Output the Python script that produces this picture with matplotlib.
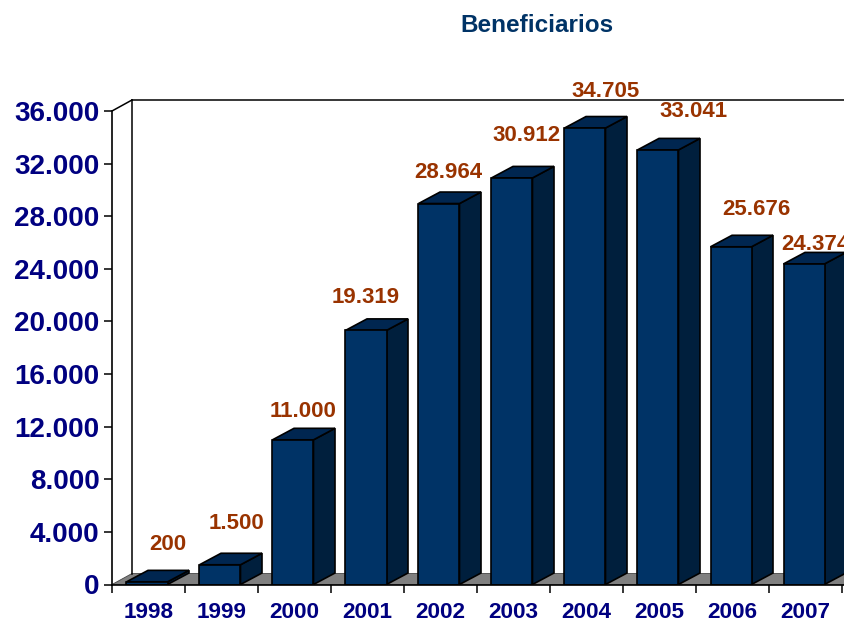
import matplotlib
matplotlib.use("Agg")
import matplotlib.pyplot as plt
from matplotlib.patches import Polygon

plt.rcParams['font.family'] = ['Liberation Sans', 'DejaVu Sans']
plt.rcParams['font.weight'] = 'bold'

years = ['1998', '1999', '2000', '2001', '2002', '2003', '2004', '2005', '2006', '2007']
values = [200, 1500, 11000, 19319, 28964, 30912, 34705, 33041, 25676, 24374]
labels = ['200', '1.500', '11.000', '19.319', '28.964', '30.912', '34.705', '33.041', '25.676', '24.374']
yticks = [0, 4000, 8000, 12000, 16000, 20000, 24000, 28000, 32000, 36000]
ytick_labels = ['0', '4.000', '8.000', '12.000', '16.000', '20.000', '24.000', '28.000', '32.000', '36.000']

# label offsets from the bar top, in pixels (they don't sit straight above the bars)
label_dx = [21, 17, 10.5, -0.5, 9.5, 14.5, 20.5, 35.5, 25.5, 11]
label_dy = [37.4, 41.2, 28, 33, 31, 42.5, 37, 38, 37.2, 19]

W, H = 845, 623
cat_px = 73
val_px = 473.5 / 36000

front = '#003366'
side = '#001F3D'
top = '#002650'
floor = '#808080'

fig = plt.figure(figsize=(W / 100, H / 100), dpi=100)
ax = fig.add_axes([112 / W, (H - 584.5) / H, (W - 112) / W, (584.5 - 95) / H])
ax.set_xlim(0, (W - 112) / cat_px)
ax.set_ylim(0, 489.5 / val_px)

# fake 3d depth, data units
wall_dx = 20 / cat_px
wall_dy = 11 / val_px
bar_dx = 21.5 / cat_px
bar_dy = 11.5 / val_px
bar_w = 41 / cat_px
shift = -1.5 / cat_px

xmax = ax.get_xlim()[1]
ax.add_patch(Polygon([(0, 0), (wall_dx, wall_dy), (xmax + 1, wall_dy), (xmax + 1, 0)],
                     fc=floor, ec='#444444', lw=0.6, zorder=1))
ax.plot([wall_dx, wall_dx], [wall_dy, 36000 + wall_dy], color='black', lw=1.1, zorder=1.5)
ax.plot([wall_dx, xmax + 1], [36000 + wall_dy, 36000 + wall_dy], color='black', lw=1.1, zorder=1.5)
ax.plot([0, wall_dx], [36000, 36000 + wall_dy], color='black', lw=1.1, zorder=1.5)

for i, v in enumerate(values):
    x0 = i + 0.5 + shift - bar_w / 2
    x1 = x0 + bar_w
    ax.add_patch(Polygon([(x1, 0), (x1 + bar_dx, bar_dy), (x1 + bar_dx, v + bar_dy), (x1, v)],
                         fc=side, ec='black', lw=1.2, zorder=2))
    ax.add_patch(Polygon([(x0, v), (x1, v), (x1 + bar_dx, v + bar_dy), (x0 + bar_dx, v + bar_dy)],
                         fc=top, ec='black', lw=1.2, zorder=2))
    ax.bar(x0 + bar_w / 2, v, width=bar_w, color=front, edgecolor='black', linewidth=1.2, zorder=3)
    ax.annotate(labels[i], (x0 + bar_w / 2, v), xytext=(label_dx[i], label_dy[i]),
                textcoords='offset pixels', ha='center', va='center',
                color='#993300', fontsize=16, annotation_clip=False, zorder=5)

for s in ['top', 'right']:
    ax.spines[s].set_visible(False)
ax.spines['left'].set_bounds(0, 36000)
ax.spines['left'].set_linewidth(1.2)
ax.spines['bottom'].set_linewidth(1.2)
ax.spines['left'].set_zorder(4)
ax.spines['bottom'].set_zorder(4)

ax.set_yticks(yticks)
ax.set_yticklabels(ytick_labels, fontsize=20, color='#000080')
ax.tick_params(axis='y', length=6, width=1.1, pad=3)

ax.set_xticks(range(0, 11))
ax.set_xticklabels([])
ax.set_xticks([i + 0.5 for i in range(10)], minor=True)
ax.set_xticklabels(years, minor=True, fontsize=16.2, color='#000080')
ax.tick_params(axis='x', which='major', length=6, width=1.1)
ax.tick_params(axis='x', which='minor', length=0, pad=12.5)

fig.text(537 / W, 1 - 25 / H, 'Beneficiarios', ha='center', va='center',
         fontsize=17.5, color='#003366')

fig.savefig('out.png', dpi=100)
